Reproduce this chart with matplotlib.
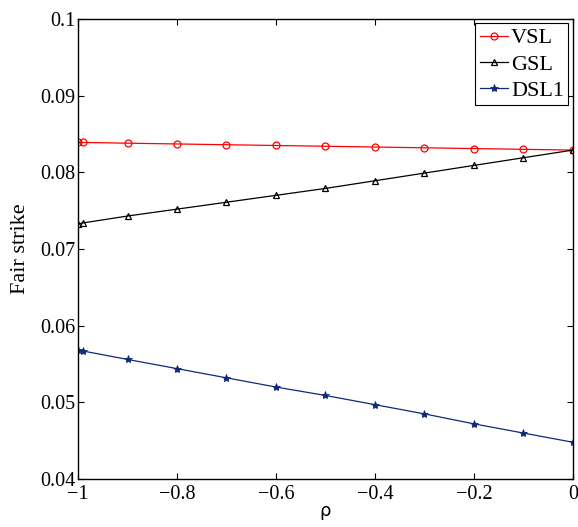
import numpy as np
import matplotlib.pyplot as plt

# =========================
# DATA
# =========================

rho = [-1.0, -0.99, -0.9, -0.8, -0.7, -0.6, -0.5, -0.4, -0.3, -0.2, -0.1, 0.0]

vsl = [0.0839, 0.0839, 0.0838, 0.0837, 0.0836, 0.0835,
       0.0834, 0.0833, 0.0832, 0.0831, 0.0830, 0.0829]
gsl = [0.0733, 0.0734, 0.0743, 0.0752, 0.0761, 0.0770,
       0.0779, 0.0789, 0.0799, 0.0809, 0.0819, 0.0829]
dsl1 = [0.0568, 0.0567, 0.0556, 0.0544, 0.0532, 0.0520,
        0.0509, 0.0497, 0.0485, 0.0472, 0.0460, 0.0448]

yticks = [0.04, 0.05, 0.06, 0.07, 0.08, 0.09, 0.1]
ytick_labels = ["0.04", "0.05", "0.06", "0.07", "0.08", "0.09", "0.1"]
xticks = [-1, -0.8, -0.6, -0.4, -0.2, 0]
xtick_labels = ["\u22121", "\u22120.8", "\u22120.6", "\u22120.4", "\u22120.2", "0"]

# =========================
# PLOT
# =========================

plt.rcParams["font.family"] = ["Liberation Serif", "DejaVu Serif"]
plt.rcParams["axes.unicode_minus"] = True

fig = plt.figure(figsize=(5.78, 5.27), dpi=100)
ax = fig.add_axes([0.135, 0.091, 0.856, 0.873])

ax.plot(rho, vsl, color="red", linewidth=0.9, marker="o", markersize=5,
        markerfacecolor="none", markeredgewidth=0.9, label="VSL")
ax.plot(rho, gsl, color="black", linewidth=0.9, marker="^", markersize=5,
        markerfacecolor="none", markeredgewidth=0.9, label="GSL")
ax.plot(rho, dsl1, color="#102a7a", linewidth=0.9, marker="*", markersize=6,
        markerfacecolor="#102a7a", markeredgewidth=0.6, label="DSL1")

ax.set_xlim(-1, 0)
ax.set_ylim(0.04, 0.1)
ax.set_xticks(xticks)
ax.set_xticklabels(xtick_labels)
ax.set_yticks(yticks)
ax.set_yticklabels(ytick_labels)

ax.tick_params(direction="in", length=4, width=0.8, top=True, right=True,
               labelsize=14.5)
ax.tick_params(axis="x", pad=4)
ax.tick_params(axis="y", pad=2)
for s in ax.spines.values():
    s.set_linewidth(1.0)

ax.set_ylabel("Fair strike", fontsize=16, labelpad=7)
ax.set_xlabel("\u03c1", fontsize=13, family="DejaVu Sans", labelpad=-1)

leg = ax.legend(loc="upper right", fontsize=16, frameon=True, fancybox=False,
                framealpha=1.0, borderaxespad=0.2, handlelength=1.25,
                handletextpad=0.15, labelspacing=0.25, borderpad=0.2)
leg.get_frame().set_edgecolor("black")
leg.get_frame().set_linewidth(0.8)

fig.savefig("out.png", dpi=100)
